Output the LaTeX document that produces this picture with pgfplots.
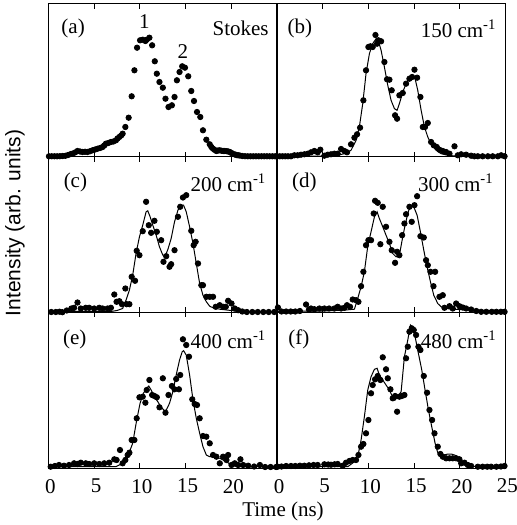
\documentclass[border=0pt]{standalone}
\usepackage{fontspec}
\setmainfont{Liberation Serif}
\newfontfamily\labelsans{Liberation Sans}
\usepackage{pgfplots}
\pgfplotsset{compat=1.18}
\pgfplotsset{
  panel/.style={scale only axis, width=114.25pt, xmin=0, xmax=25, ymin=0, clip=false,
    axis line style={line width=0.5pt}, xtick={0,5,10,15,20,25}, xticklabels={,,,,,}, ytick=\empty,
    tick align=inside, xtick pos=both, major tick length=2.5pt,
    tick style={line width=0.5pt, black},
    xticklabel style={font=\fontsize{10.5}{12}\selectfont, yshift=-2pt, xshift=1pt}},
  toprow/.style={height=76.5pt, ymax=153},
  lowrow/.style={height=77.75pt, ymax=155.5},
  dots/.style={only marks, mark=*, mark size=1.35pt, black},
  fit/.style={no marks, black, line width=0.5pt},
}
\tikzset{lab/.style={inner sep=0pt, font=\fontsize{10.5}{12}\selectfont}}
\begin{document}
\begin{tikzpicture}
\useasboundingbox (0,0) rectangle (258.5pt,262.5pt);
% (a)
\begin{axis}[panel, toprow, at={(24.25pt,184pt)}, anchor=south west]
\addplot[dots] table {
0.05 0.7
0.35 0.7
0.65 0.7
0.95 0.7
1.25 0.8
1.55 1.0
1.85 1.2
2.15 2.0
2.45 3.0
2.62 3.3
2.9 4.5
3.17 6.0
3.45 5.5
3.72 5.0
4.0 5.2
4.27 5.0
4.55 5.8
4.82 6.7
5.1 7.5
5.37 8.3
5.65 9.0
5.92 10.0
6.1 11.5
6.28 13.3
6.55 14
6.83 15.0
7.1 15.5
7.38 16.7
7.55 18.5
7.75 20.0
7.95 21.5
8.11 23.3
8.41 30.0
8.77 39.3
9.1 60.7
9.4 86.7
9.69 109.3
10.02 116.7
10.31 117.3
10.6 116.0
10.75 117.3
11.04 119.3
11.34 111.7
11.63 95.7
11.85 83.3
12.14 75.0
12.51 69.3
12.8 58.3
13.13 50.0
13.5 51.7
13.79 60.0
14.05 76.7
14.34 85.0
14.63 90.7
14.93 89.3
15.29 80.7
15.62 66.0
15.92 56.0
16.25 45.0
16.61 40.0
16.9 26.7
17.27 17.3
17.64 12.7
17.82 10
18.0 8.3
18.2 7.0
18.37 6.0
18.55 6.5
18.74 6.7
18.95 6.2
19.13 6.0
19.29 6.0
19.5 5.8
19.67 5.5
19.84 5.0
20.02 4.0
20.2 3.0
20.4 2.5
20.57 2.0
20.75 1.7
20.93 1.5
21.2 1.0
21.5 0.8
21.8 0.7
22.1 0.7
22.4 0.7
22.7 0.7
23.0 0.7
23.3 0.7
23.6 0.7
23.9 0.7
24.2 0.7
24.5 0.7
24.8 0.7
};
\node[lab, anchor=west] at (rel axis cs:0.055,0.84) {(a)};
\node[lab, anchor=east] at (rel axis cs:0.965,0.84) {Stokes};
\node[lab] at (axis cs:10.5,135) {1};
\node[lab] at (axis cs:14.7,105.7) {2};
\end{axis}
% (b)
\begin{axis}[panel, toprow, at={(138.5pt,184pt)}, anchor=south west]
\addplot[fit] table {
0 0.7
3 0.8
5 1
6.5 1.5
7.37 3.3
8.1 6.7
8.65 16.7
9.01 30
9.38 53.3
9.74 83.3
10.11 103.3
10.47 113.3
10.84 118.3
11.09 116
11.39 106.7
11.75 90
12.12 71.7
12.48 56.7
12.85 48.3
13.14 46.7
13.39 53.3
13.76 65
14.12 73.3
14.49 78.3
14.85 81.7
15.11 78.3
15.4 66.7
15.77 46.7
16.13 30
16.5 20
16.86 13.3
17.41 6.7
17.96 3.3
18.69 1.7
19.78 0.7
25 0.7
};
\addplot[dots] table {
0.0 0.7
0.3 0.7
0.6 0.7
0.9 0.7
1.2 0.7
1.53 0.7
1.9 1.7
2.26 1.7
2.63 2.3
2.99 2.7
3.36 3.3
3.72 4.7
4.09 6.0
4.45 4.7
4.74 7.3
5.18 1.3
5.55 2.3
5.91 2.7
6.28 3.3
6.64 3.3
7.01 8.0
7.37 6.0
7.66 4.7
8.1 12.7
8.47 19.3
8.76 22.7
9.09 29.3
9.45 56.7
9.74 86.7
10.0 110.0
10.22 110.7
10.47 110.0
10.77 122.0
10.95 113.3
11.09 116.7
11.39 115.7
11.75 95.0
12.04 77.7
12.3 77.3
12.55 66.7
12.92 41.7
13.14 38.3
13.39 61.7
13.76 64.0
14.12 73.3
14.49 78.3
14.78 80.0
15.04 87.3
15.33 79.3
15.69 60.0
15.95 30.0
16.2 30.0
16.5 34.0
16.86 15.0
17.15 11.7
17.48 10.0
17.77 7.3
18.14 6.0
18.5 5.0
18.87 3.3
19.42 10.7
19.78 1.7
20.15 2.7
20.69 2.3
21.24 1.3
21.6 0.7
21.97 0.7
22.5 0.7
23.07 0.7
23.6 0.7
24.16 0.7
24.53 1.7
24.9 0.7
};
\node[lab, anchor=west] at (rel axis cs:0.045,0.84) {(b)};
\node[lab, anchor=east] at (rel axis cs:0.962,0.84) {150 cm\textsuperscript{-1}};
\end{axis}
% (c)
\begin{axis}[panel, lowrow, at={(24.25pt,106.25pt)}, anchor=south west]
\addplot[fit] table {
0 1
6.83 1
7.5 2
8.11 4
8.48 12.3
8.85 22.3
9.21 37.3
9.58 59
9.95 75.7
10.31 87.3
10.68 100.7
10.86 101.7
11.12 95.7
11.41 87.3
11.78 77.3
12.14 65.7
12.51 57.3
12.8 57.3
13.06 63
13.42 74
13.79 90.7
14.16 102.3
14.52 107.3
14.78 107.3
15.07 100.7
15.44 85.7
15.81 69
16.17 49
16.54 29
16.9 17.3
17.27 10.7
17.64 6.3
18.0 4.7
18.74 3.3
20.93 1
25 0.5
};
\addplot[dots] table {
0.3 0.5
0.8 0.5
1.2 0.8
1.52 0.3
2.0 2.0
2.5 4.0
2.8 4.7
3.17 10.0
3.53 4.0
4.08 4.7
4.45 4.7
5.0 4.0
5.55 4.7
5.92 4.0
6.47 4.0
6.83 4.7
7.2 18.0
7.45 10.7
7.75 11.3
8.04 8.3
8.41 24.0
8.55 8.3
8.85 8.3
9.1 35.7
9.47 31.7
9.65 61.7
9.95 57.3
10.31 81.3
10.68 110.7
10.97 87.3
11.23 79.7
11.59 91.7
11.85 80.7
12.33 72.3
12.58 50.7
12.88 56.3
13.24 45.7
13.42 48.3
13.79 62.3
14.16 95.7
14.41 105.7
14.71 115.0
15.07 117.3
15.62 81.7
15.88 67.3
16.1 70.7
16.36 49.0
16.72 27.3
16.9 27.3
17.27 15.7
17.64 15.7
18.0 15.7
18.3 5.7
18.74 7.3
19.1 5.7
19.4 5.7
19.65 11.7
20.02 9.0
20.38 4.0
20.75 2.3
21.2 1.0
21.7 0.5
22.3 0.5
22.9 0.5
23.5 0.5
24.1 0.5
24.7 0.5
};
\node[lab, anchor=west] at (rel axis cs:0.065,0.835) {(c)};
\node[lab, anchor=east] at (rel axis cs:0.955,0.835) {200 cm\textsuperscript{-1}};
\end{axis}
% (d)
\begin{axis}[panel, lowrow, at={(138.5pt,106.25pt)}, anchor=south west]
\addplot[fit] table {
0 1
5 1.5
7.5 2.5
8.47 3.3
8.83 14
9.2 25.7
9.56 40.7
9.93 66.3
10.29 80.7
10.66 95.7
10.95 100.7
11.2 94
11.57 85.7
11.93 77.3
12.3 69
12.66 59
13.03 55.7
13.39 57.3
13.69 72.3
13.94 84
14.31 99
14.6 107.3
14.96 105.7
15.33 97.3
15.69 80.7
16.06 62.3
16.42 45.7
16.79 30.7
17.15 17.3
17.59 9
17.96 5.7
18.5 4
19.23 3.3
21.24 2.3
25 1.5
};
\addplot[dots] table {
0.1 5.0
0.5 1.0
1.0 1.0
1.5 1.0
2.0 1.0
2.5 1.5
3.18 8.0
3.5 3.0
3.72 4.0
4.09 3.3
4.64 4.0
5.18 4.0
5.7 4.0
6.28 4.0
6.64 5.7
7.01 4.0
7.37 4.7
7.66 7.3
7.99 5.7
8.28 13.0
8.65 12.3
8.91 10.7
9.2 26.3
9.45 40.7
9.74 67.3
10.0 72.3
10.29 72.3
10.58 99.0
10.73 111.7
11.02 109.7
11.31 68.3
11.57 105.7
11.93 85.7
12.3 70.7
12.55 62.3
12.92 49.7
13.14 60.7
13.39 57.3
13.69 77.3
13.94 89.0
14.12 98.3
14.49 105.7
14.74 90.7
15.04 107.3
15.33 116.3
15.69 76.3
16.06 75.0
16.31 52.3
16.5 47.3
16.79 40.7
17.12 26.3
17.3 40.7
17.77 15.7
18.14 17.3
18.32 4.7
18.87 6.3
19.23 4.0
19.6 9.0
19.96 6.3
20.33 5.0
20.69 4.0
21.24 3.0
21.8 1.5
22.34 0.7
22.9 0.7
23.5 0.7
24.0 0.7
24.5 0.7
24.9 0.7
};
\node[lab, anchor=west] at (rel axis cs:0.064,0.835) {(d)};
\node[lab, anchor=east] at (rel axis cs:0.95,0.835) {300 cm\textsuperscript{-1}};
\end{axis}
% (e)
\begin{axis}[panel, lowrow, at={(24.25pt,28.5pt)}, anchor=south west,
  xticklabels={0,5,10,15,20,{}}]
\addplot[fit] table {
0 1.3
7.38 1.3
8.11 4.7
8.66 11.3
9.21 24.7
9.65 48
10.02 64.7
10.38 74.7
10.75 79.7
10.97 82
11.23 78
11.59 71.3
11.96 66.3
12.33 60.7
12.8 56.3
13.24 64.7
13.61 76.3
13.97 93
14.34 108
14.63 116.3
14.78 117.3
15.07 113
15.44 93
15.81 68
16.17 49.7
16.54 34.7
16.9 21.3
17.27 13
17.64 11.3
18.0 11.3
18.74 9.7
19.47 6.3
19.84 4
20.2 2
20.93 1.3
25 1.3
};
\addplot[dots] table {
0.24 1.3
0.7 2.0
1.15 3.0
1.7 2.3
2.25 3.0
2.8 4.7
3.17 4.0
3.53 5.3
4.08 4.7
4.45 4.0
5.0 4.7
5.55 4.0
6.1 4.7
6.65 5.3
7.2 8.7
7.45 8.0
7.82 18.0
8.11 4.7
8.41 8.0
8.66 13.0
8.85 15.3
9.1 28.0
9.4 28.0
9.65 49.7
9.95 70.7
10.31 71.3
10.6 65.3
10.75 78.0
11.04 88.0
11.34 73.0
11.59 72.0
11.85 70.7
12.14 60.7
12.51 89.7
12.8 55.3
13.13 73.0
13.5 82.0
13.79 78.7
13.97 89.0
14.27 78.7
14.41 93.0
14.71 128.7
15.07 123.0
15.37 111.3
15.73 68.7
15.99 64.0
16.25 63.0
16.54 49.7
16.9 32.0
17.27 31.3
17.64 24.7
18.0 13.0
18.37 11.3
18.74 4.7
19.1 11.3
19.47 8.0
19.65 13.0
20.02 3.0
20.38 4.7
20.75 3.0
21.0 8.7
21.3 3.0
21.85 2.3
22.5 1.5
23.13 3.0
23.7 1.0
24.3 1.0
24.9 1.0
};
\node[lab, anchor=west] at (rel axis cs:0.062,0.825) {(e)};
\node[lab, anchor=east] at (rel axis cs:0.955,0.825) {400 cm\textsuperscript{-1}};
\end{axis}
% (f)
\begin{axis}[panel, lowrow, at={(138.5pt,28.5pt)}, anchor=south west,
  xticklabels={0,5,10,15,20,25}]
\addplot[fit] table {
0 1.3
7.74 1.3
8.47 6.3
8.91 14.7
9.2 28
9.56 51.3
9.93 78
10.29 91.3
10.66 98.7
10.95 99.7
11.2 93
11.57 88
11.93 83
12.3 78
12.55 73
12.92 68
13.21 71.3
13.58 76.3
13.94 111.3
14.31 128
14.6 143
14.85 140.7
15.11 131.3
15.47 114.7
15.84 98
16.2 78
16.57 58
16.93 41.3
17.3 24.7
17.59 15.3
17.96 13
18.32 13
18.69 14
19.05 14
19.42 13
19.78 11.3
20.15 8
20.51 4.7
21.06 2
21.97 1.3
25 1.3
};
\addplot[dots] table {
0.07 1.3
0.5 1.5
1.0 2.0
1.53 2.0
2.0 2.0
2.5 2.3
2.99 2.3
3.5 2.7
4.0 3.0
4.45 3.0
5.18 3.7
5.6 3.5
5.91 3.3
6.3 3.7
6.64 4.0
7.19 2.3
7.55 5.3
7.92 7.0
8.28 8.0
8.65 8.0
8.91 13.0
9.2 21.3
9.45 24.0
9.74 34.7
10.0 48.0
10.29 74.7
10.47 83.0
10.73 88.7
11.02 92.0
11.31 88.0
11.57 110.7
11.93 98.7
12.12 89.7
12.41 78.7
12.66 69.7
12.92 72.0
13.14 56.3
13.39 71.3
13.65 72.0
13.94 73.0
14.12 109.7
14.31 121.3
14.49 136.3
14.74 139.7
14.96 138.0
15.22 133.0
15.47 121.3
15.69 118.0
16.06 92.0
16.42 75.3
16.68 58.0
16.97 48.0
17.23 34.7
17.59 21.3
17.88 14.0
18.14 11.3
18.5 9.7
18.87 9.7
19.23 9.7
19.6 9.7
19.96 8.7
20.15 4.7
20.51 5.3
20.88 3.0
21.24 2.0
21.97 1.3
22.5 1.3
23.0 1.3
23.43 1.3
24.0 1.3
24.5 1.5
24.89 2.0
};
\node[lab, anchor=west] at (rel axis cs:0.048,0.825) {(f)};
\node[lab, anchor=east] at (rel axis cs:0.963,0.825) {480 cm\textsuperscript{-1}};
\end{axis}
\node[font=\fontsize{10.5}{12}\selectfont] at (141.5pt,6.6pt) {Time (ns)};
\node[rotate=90, font=\labelsans\fontsize{10.5}{12}\selectfont] at (7.5pt,151pt) {Intensity (arb. units)};
\end{tikzpicture}
\end{document}
